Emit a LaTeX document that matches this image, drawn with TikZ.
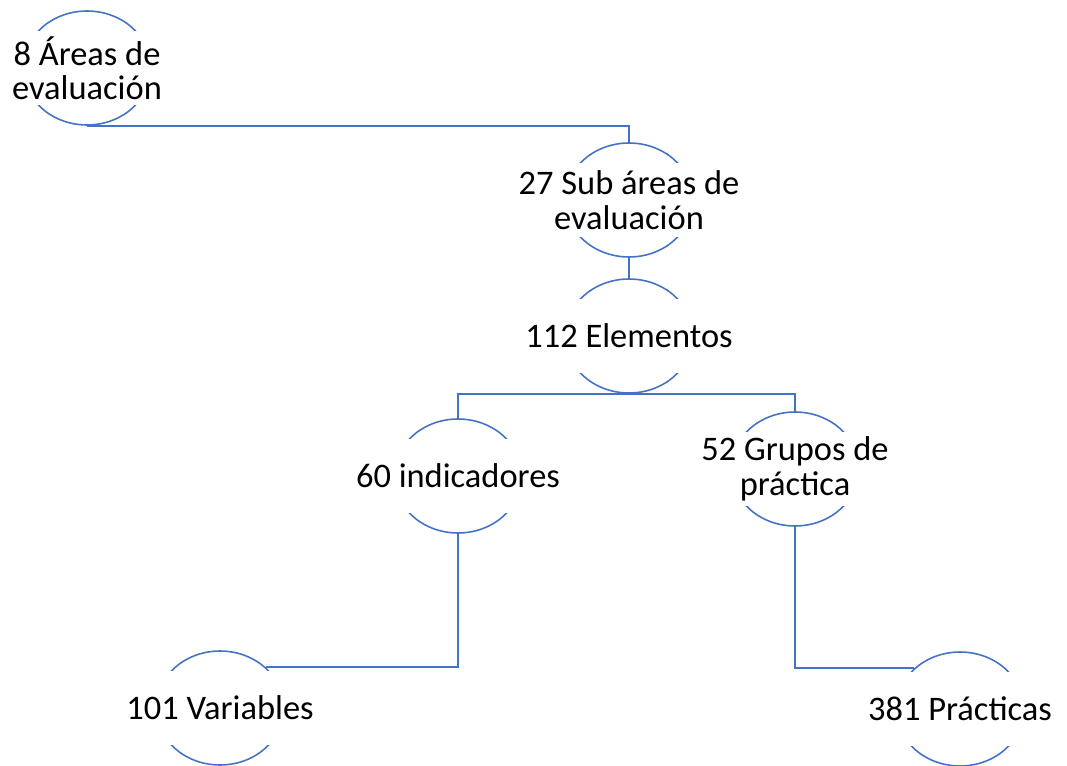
\documentclass[tikz,border=0pt]{standalone}
\usepackage{fontspec}
\setmainfont{Carlito}
\usepackage{tikz}
\usetikzlibrary{shapes.geometric}
\definecolor{linkblue}{RGB}{68,114,196}

\begin{document}
\begin{tikzpicture}[x=0.02cm,
			y=-0.02cm,
			ring/.style={ellipse, draw=linkblue, line width=0.9pt, minimum width=2.56cm, minimum height=2.28cm, inner sep=0pt},
			tag/.style={fill=white, minimum width=2.8cm, minimum height=1.48cm, inner sep=0pt, align=center, font=\fontsize{19.6}{19.6}\selectfont},
			link/.style={draw=linkblue, line width=0.9pt}]
			
			\useasboundingbox (0,0) rectangle (1067,766);
			
			\node[ring] (areas) at (87,68) {};
			\node[ring] (sub) at (629,200) {};
			\node[ring] (elem) at (629,336) {};
			\node[ring] (ind) at (458,476) {};
			\node[ring] (grp) at (795,469) {};
			\node[ring] (vars) at (220,708) {};
			\node[ring] (prac) at (960,709) {};
			
			\node[tag] (areas text) at (areas) {8 Áreas de\\evaluación};
			\node[tag] (sub text) at (sub) {27 Sub áreas de\\evaluación};
			\node[tag] (elem text) at (elem) {112 Elementos};
			\node[tag] (ind text) at (ind) {60 indicadores};
			\node[tag] (grp text) at (grp) {52 Grupos de\\práctica};
			\node[tag] (vars text) at (vars) {101 Variables};
			\node[tag] (prac text) at (prac) {381 Prácticas};
			
			\draw[link] (areas.south) -| (sub.north);
			\draw[link] (sub.south) -- (elem.north);
			\draw[link] (elem.south) -| (ind.north);
			\draw[link] (elem.south) -| (grp.north);
			\draw[link] (ind.south) |- (vars.north east);
			\draw[link] (grp.south) |- (prac.north west);
		\end{tikzpicture}
\end{document}
